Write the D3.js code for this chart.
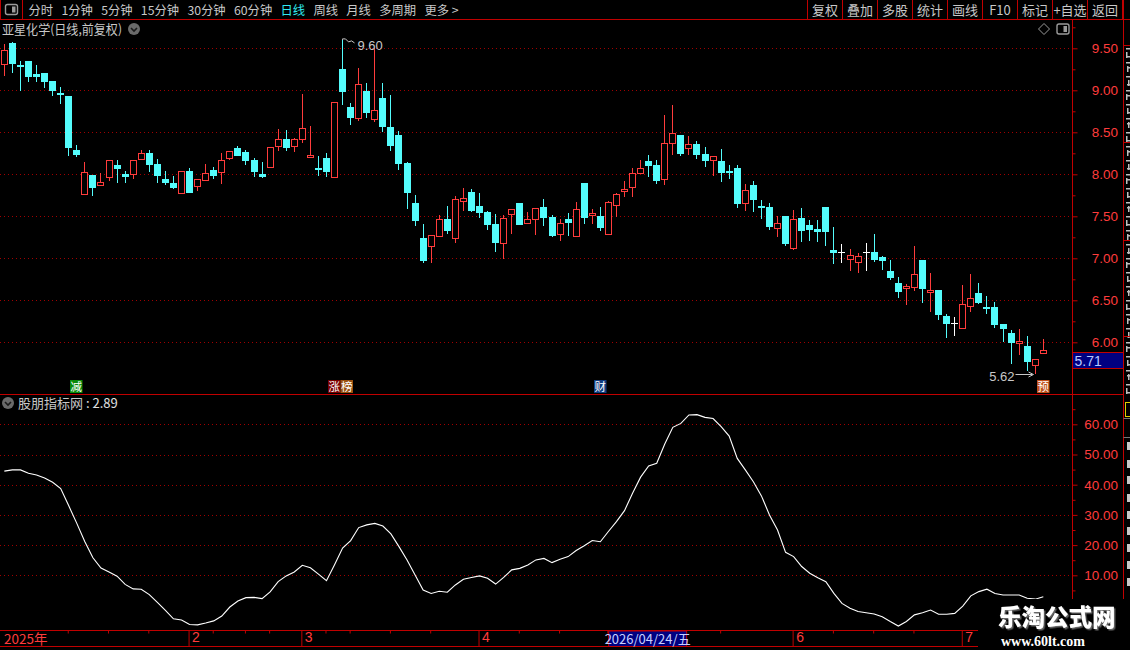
<!DOCTYPE html>
<html><head><meta charset="utf-8">
<script src="https://cdn.jsdelivr.net/npm/d3@7/dist/d3.min.js"></script>
<style>
body{margin:0;background:#000;overflow:hidden}
svg{display:block}
text{font-family:"Noto Sans CJK SC","Liberation Sans",sans-serif}
</style>
</head><body><svg id="c" width="1130" height="650"></svg>
<script>
// ---------------- DATA ----------------
const stockTitle = "亚星化学(日线,前复权)";
const indicatorName = "股朋指标网";
const indicatorLast = "2.89";
const opens = [9.31,9.56,9.30,9.35,9.19,9.21,9.11,8.97,8.93,8.29,
7.76,7.99,7.873,7.97,8.11,8.00,8.008,8.186,8.254,8.123,
7.944,7.893,7.782,8.04,7.865,7.933,8.052,8.032,8.20,8.313,
8.266,8.17,8.004,8.091,8.341,8.42,8.341,8.417,8.202,8.08,
8.194,7.972,9.254,8.80,8.675,8.99,8.663,8.909,8.563,8.468,
8.135,7.659,7.242,7.143,7.27,7.468,7.246,7.687,7.79,7.623,
7.552,7.409,7.186,7.532,7.659,7.425,7.464,7.611,7.49,7.286,
7.468,7.27,7.897,7.52,7.504,7.294,7.639,7.805,7.853,8.02,
8.159,8.111,7.948,8.369,8.468,8.317,8.361,8.242,8.175,8.159,
8.044,8.075,7.655,7.873,7.627,7.611,7.365,7.504,7.127,7.48,
7.397,7.349,7.611,7.099,7.075,6.996,6.96,7.071,7.075,7.012,
6.849,6.706,6.643,6.663,6.98,6.595,6.623,6.313,6.23,6.175,
6.437,6.587,6.425,6.421,6.214,6.107,5.988,5.952,5.734,5.877];
const highs = [9.55,9.57,9.345,9.35,9.30,9.21,9.11,9.04,8.93,8.35,
8.147,7.99,8.01,8.17,8.17,8.04,8.167,8.29,8.29,8.18,
8.04,7.98,8.036,8.075,7.944,8.12,8.09,8.25,8.274,8.337,
8.29,8.19,8.147,8.32,8.54,8.528,8.43,8.956,8.575,8.218,
8.25,8.861,9.60,8.845,9.266,9.083,9.50,9.083,8.944,8.516,
8.147,7.754,7.409,7.274,7.516,7.623,7.742,7.833,7.821,7.778,
7.563,7.528,7.516,7.583,7.659,7.556,7.595,7.706,7.516,7.468,
7.54,7.67,7.897,7.587,7.611,7.679,7.778,7.92,8.08,8.17,
8.226,8.17,8.706,8.825,8.468,8.456,8.397,8.325,8.214,8.30,
8.111,8.111,7.885,7.92,7.694,7.659,7.50,7.504,7.575,7.599,
7.456,7.456,7.611,7.373,7.17,7.111,7.063,7.183,7.29,7.032,
6.98,6.778,6.694,7.147,6.98,6.825,6.623,6.337,6.302,6.683,
6.813,6.706,6.552,6.484,6.214,6.147,6.159,6.079,5.798,6.04];
const lows = [9.17,9.22,9.00,9.115,9.115,9.036,8.94,8.85,8.234,8.22,
7.758,7.754,7.86,7.92,7.91,7.91,7.944,8.17,8.044,7.91,
7.885,7.837,7.78,7.79,7.80,7.92,7.96,7.885,8.17,8.234,
8.123,7.98,7.972,8.091,8.28,8.29,8.27,8.377,8.20,7.99,
7.984,7.972,8.837,8.60,8.64,8.687,8.627,8.52,8.29,8.067,
7.60,7.397,6.96,6.94,7.27,7.306,7.179,7.563,7.563,7.496,
7.353,7.091,6.99,7.29,7.409,7.417,7.282,7.397,7.27,7.21,
7.282,7.27,7.425,7.409,7.337,7.294,7.492,7.734,7.726,8.02,
7.98,7.90,7.877,8.234,8.234,8.234,8.198,8.103,7.98,7.925,
7.96,7.615,7.567,7.567,7.484,7.353,7.258,7.163,7.103,7.21,
7.222,7.21,7.163,6.948,6.96,6.853,6.829,6.865,6.972,6.877,
6.754,6.544,6.448,6.615,6.484,6.365,6.278,6.067,6.09,6.175,
6.357,6.464,6.349,6.187,6.016,5.758,5.853,5.67,5.62,5.861];
const closes = [9.476,9.33,9.29,9.175,9.17,9.115,9.004,8.96,8.33,8.24,
8.024,7.853,7.905,8.167,8.08,7.98,8.167,8.25,8.123,7.99,
7.91,7.853,8.036,7.794,7.944,8.012,7.99,8.17,8.274,8.234,
8.17,8.044,7.98,8.32,8.417,8.32,8.417,8.548,8.226,8.06,
8.044,8.861,8.99,8.687,9.075,8.746,8.762,8.575,8.349,8.139,
7.79,7.456,6.98,7.274,7.468,7.337,7.702,7.718,7.571,7.552,
7.409,7.194,7.48,7.583,7.409,7.464,7.595,7.49,7.282,7.421,
7.437,7.583,7.492,7.54,7.373,7.671,7.766,7.821,8.012,8.075,
8.111,7.933,8.369,8.488,8.254,8.357,8.242,8.175,8.214,8.032,
8.024,7.663,7.813,7.706,7.611,7.389,7.417,7.183,7.468,7.337,
7.353,7.329,7.325,7.079,7.075,7.036,7.024,7.071,6.996,6.984,
6.782,6.615,6.671,6.813,6.647,6.623,6.337,6.234,6.23,6.453,
6.524,6.484,6.409,6.218,6.175,6.008,6.012,5.782,5.798,5.905];
const indicator = [44.5,44.9,44.9,43.8,43.2,42.2,40.8,38.7,33.0,27.2,
21.1,15.8,12.4,11.1,9.7,7.0,5.5,5.4,3.6,1.0,
-1.6,-4.4,-4.8,-6.3,-6.4,-5.8,-5.1,-3.5,-0.5,1.5,
2.6,2.7,2.3,4.5,7.9,9.8,11.1,13.3,12.5,10.4,
8.2,13.5,19.0,21.5,25.8,26.7,27.2,26.3,23.7,19.5,
15.1,10.1,5.1,4.0,4.7,4.4,6.8,8.7,9.3,9.8,
9.0,7.1,9.3,11.8,12.3,13.4,15.1,15.6,14.2,15.3,
16.2,18.2,19.8,21.5,21.1,24.5,27.8,31.4,37.2,42.5,
46.2,47.1,53.5,59.0,60.3,63.1,63.2,62.3,61.9,59.2,
56.1,48.7,44.9,41.0,36.3,30.0,25.0,17.6,16.2,12.9,
10.7,9.2,7.9,4.0,0.7,-0.9,-2.0,-2.4,-2.8,-3.7,
-5.3,-6.8,-5.3,-3.1,-2.4,-1.5,-2.9,-2.9,-2.6,-0.2,
3.2,4.6,5.4,4.0,3.5,3.5,3.5,2.4,2.1,2.89];
const priceTicks = [6.0,6.5,7.0,7.5,8.0,8.5,9.0,9.5];
const priceMinor = [5.75,6.25,6.75,7.25,7.75,8.25,8.75,9.25,9.75];
const indTicks = [10,20,30,40,50,60];
const indMinor = [5,15,25,35,45,55,65];
const monthLabels = ["2","3","4","6","7"];
const monthIdx = [23,37,59,98,119];
const weekIdx = [8,13,18,26,30,33,40,43,48,53,64,69,75,89,103,108,113];
const yearLabel = "2025年";
const cursorDate = "2026/04/24/五";
const cursorIdx = 80;
const lastPriceLabel = "5.71";
const highLabel = "9.60", highIdx = 42;
const lowLabel = "5.62", lowIdx = 128;
const badgeIdx = [9,41,74,129];
const badgeChars = [["减"],["涨","榜"],["财"],["预"]];
const badgeColors = [["#0a8a0a"],["#7a0000","#9a5010"],["#103c80"],["#c0501a"]];
const toolbarItems = ["分时","1分钟","5分钟","15分钟","30分钟","60分钟","日线","周线","月线","多周期","更多 >"];
const activeItem = "日线";
const buttons = ["复权","叠加","多股","统计","画线","F10","标记","+自选","返回"];

// ---------------- DRAW ----------------
const svg = d3.select("#c");
const W = 1130, H = 650;
const RED = "#ff3c3c", CYAN = "#54fcfc", GRID = "#a00000", BORDER = "#c00000", TXT = "#c8c8c8";
svg.append("rect").attr("width", W).attr("height", H).attr("fill", "#000");
const defs = svg.append("defs");
const flt = defs.append("filter").attr("id", "ws").attr("x", "-5%").attr("y", "-20%").attr("width", "115%").attr("height", "150%");
flt.append("feDropShadow").attr("dx", 1.5).attr("dy", 1.5).attr("stdDeviation", 0.6).attr("flood-color", "#666");

const NSLOT = 133;
const x = d3.scaleBand().domain(d3.range(NSLOT)).range([0.3, 1071.5]);
const bw = x.bandwidth();
const cxf = i => Math.floor(x(i) + bw / 2);
const y = d3.scaleLinear().domain([6, 9.5]).range([342.3, 48.3]);
const yi = d3.scaleLinear().domain([10, 60]).range([575.3, 424.3]);
const AX = 1072.5;

// Gridlines
const g = svg.append("g");
g.selectAll("line.pg").data(priceTicks).join("line")
  .attr("x1", 0).attr("x2", AX).attr("y1", d => Math.round(y(d)) + 0.5).attr("y2", d => Math.round(y(d)) + 0.5)
  .attr("stroke", GRID).attr("stroke-dasharray", "1,3");
g.selectAll("line.ig").data(indTicks).join("line")
  .attr("x1", 0).attr("x2", AX).attr("y1", d => Math.round(yi(d)) + 0.5).attr("y2", d => Math.round(yi(d)) + 0.5)
  .attr("stroke", GRID).attr("stroke-dasharray", "1,3");

// Candles
const cg = svg.append("g").attr("shape-rendering", "crispEdges");
opens.forEach((o, i) => {
  const c = closes[i], h = highs[i], l = lows[i];
  const col = c > o ? RED : (c < o ? CYAN : "#ffffff");
  const f = cxf(i), cx = f + 0.5;
  const yt = Math.round(y(Math.max(o, c))), yb = Math.round(y(Math.min(o, c)));
  const yh = Math.round(y(h)), yl = Math.round(y(l));
  if (c > o) {
    if (yh < yt) cg.append("line").attr("x1", cx).attr("x2", cx).attr("y1", yh).attr("y2", yt).attr("stroke", col);
    if (yl > yb) cg.append("line").attr("x1", cx).attr("x2", cx).attr("y1", yb).attr("y2", yl).attr("stroke", col);
    cg.append("rect").attr("x", f - 2.5).attr("y", yt + 0.5).attr("width", 6).attr("height", Math.max(1, yb - yt))
      .attr("fill", "#000").attr("stroke", col);
  } else {
    cg.append("line").attr("x1", cx).attr("x2", cx).attr("y1", yh).attr("y2", yl + 1).attr("stroke", col);
    cg.append("rect").attr("x", f - 3).attr("y", yt).attr("width", 7).attr("height", Math.max(1, yb - yt + 1))
      .attr("fill", col);
  }
});

// High / low annotations
{
  const f = cxf(highIdx) + 0.5, yy = y(highs[highIdx]);
  svg.append("path").attr("d", `M${f},${yy} V${yy - 1} H${f + 3} L${f + 6},${yy + 2} L${f + 9},${yy + 1} L${f + 12},${yy + 3}`)
    .attr("fill", "none").attr("stroke", TXT);
  svg.append("text").attr("x", f + 15).attr("y", yy + 10).attr("fill", TXT).attr("font-size", 13)
    .style("font-family", "Liberation Sans").text(highLabel);
  const f2 = cxf(lowIdx) + 0.5, y2 = Math.round(y(lows[lowIdx])) + 0.5;
  svg.append("line").attr("x1", f2 - 20).attr("x2", f2 - 3).attr("y1", y2).attr("y2", y2).attr("stroke", TXT);
  svg.append("path").attr("d", `M${f2 - 7},${y2 - 2.5} L${f2 - 2},${y2} L${f2 - 7},${y2 + 2.5}`).attr("fill", "none").attr("stroke", TXT);
  svg.append("text").attr("x", f2 - 21).attr("y", y2 + 6).attr("text-anchor", "end").attr("fill", TXT).attr("font-size", 13)
    .style("font-family", "Liberation Sans").text(lowLabel);
}

// Badges
badgeIdx.forEach((bi, k) => {
  let bx = cxf(bi) - 6;
  badgeChars[k].forEach((ch, j) => {
    svg.append("rect").attr("x", bx).attr("y", 380).attr("width", 12.5).attr("height", 13).attr("fill", badgeColors[k][j]);
    svg.append("text").attr("x", bx + 6.25).attr("y", 391).attr("text-anchor", "middle").attr("fill", "#fff")
      .attr("font-size", 11.5).text(ch);
    bx += 12.5;
  });
});

// Indicator line
svg.append("clipPath").attr("id", "ic").append("rect").attr("x", 0).attr("y", 396).attr("width", 1072).attr("height", 234);
svg.append("path").datum(indicator).attr("clip-path", "url(#ic)")
  .attr("d", d3.line().x((d, i) => x(i) + bw / 2).y(d => yi(d)))
  .attr("fill", "none").attr("stroke", "#fff").attr("stroke-width", 1.1);

// Panel borders
const bl = (x1, y1, x2, y2, c = BORDER, w = 1) => svg.append("line").attr("x1", x1).attr("y1", y1).attr("x2", x2).attr("y2", y2).attr("stroke", c).attr("stroke-width", w);
bl(0, 19.5, W, 19.5);
bl(0, 394.5, 1123, 394.5);
bl(0, 630.5, 1123, 630.5);
bl(0, 646.5, 1123, 646.5);
bl(AX, 19, AX, 646);
bl(1123.5, 0, 1123.5, H);

// Right axes
const ay = svg.append("g").attr("transform", `translate(${AX},0)`)
  .call(d3.axisRight(y).tickValues(priceTicks).tickSize(5).tickFormat(d3.format(".2f")));
const ayMinor = svg.append("g").attr("transform", `translate(${AX},0)`)
  .call(d3.axisRight(y).tickValues(priceMinor.filter(v => y(v) > 22 && y(v) < 392)).tickSize(3).tickFormat(""));
const ai = svg.append("g").attr("transform", `translate(${AX},0)`)
  .call(d3.axisRight(yi).tickValues(indTicks).tickSize(5).tickFormat(d3.format(".2f")));
const aiMinor = svg.append("g").attr("transform", `translate(${AX},0)`)
  .call(d3.axisRight(yi).tickValues(indMinor.filter(v => yi(v) > 398 && yi(v) < 628)).tickSize(3).tickFormat(""));
[ay, ayMinor, ai, aiMinor].forEach(a => {
  a.select(".domain").remove();
  a.selectAll(".tick line").attr("stroke", BORDER);
  a.selectAll(".tick text").attr("fill", RED).attr("x", 45.5).attr("text-anchor", "end")
    .style("font-family", "Liberation Sans").attr("font-size", 13.5);
});

// Last price box
{
  const yy = Math.round(y(+lastPriceLabel)) - 14.5;
  svg.append("rect").attr("x", AX).attr("y", yy).attr("width", 1123.5 - AX).attr("height", 16)
    .attr("fill", "#000080").attr("stroke", BORDER);
  svg.append("text").attr("x", AX + 2).attr("y", yy + 13).attr("fill", "#b8c8ff").attr("font-size", 14)
    .style("font-family", "Liberation Sans").text(lastPriceLabel);
}

// Bottom axis
const xc = d3.scaleLinear().domain([0, NSLOT - 1]).range([x(0) + bw / 2, x(NSLOT - 1) + bw / 2]);
const ax = svg.append("g").attr("transform", "translate(0,630.5)")
  .call(d3.axisBottom(xc).tickValues(monthIdx).tickSize(16).tickFormat((d, i) => monthLabels[i]));
const axw = svg.append("g").attr("transform", "translate(0,630.5)")
  .call(d3.axisBottom(xc).tickValues(weekIdx).tickSize(3).tickFormat(""));
[ax, axw].forEach(a => {
  a.select(".domain").remove();
  a.selectAll(".tick line").attr("stroke", BORDER).attr("transform", "translate(-1,0)");
});
ax.selectAll(".tick text").attr("fill", RED).attr("y", 2).attr("dy", "0.71em").attr("x", 2).attr("text-anchor", "start")
  .style("font-family", "Liberation Sans").attr("font-size", 14);
svg.append("text").attr("x", 4).attr("y", 644).attr("fill", RED).attr("font-size", 13.5).text(yearLabel);
{
  const c = xc(cursorIdx) - 1;
  svg.append("rect").attr("x", c - 39).attr("y", 631).attr("width", 78).attr("height", 15.5).attr("fill", "#000080")
    .attr("stroke", BORDER);
  svg.append("text").attr("x", c).attr("y", 644).attr("text-anchor", "middle").attr("fill", "#c8d0ff")
    .attr("font-size", 13).text(cursorDate);
}

// Toolbar
{
  svg.append("rect").attr("x", 0.5).attr("y", -1).attr("width", 22).attr("height", 20.5).attr("fill", "none").attr("stroke", BORDER);
  const icon = (cx, cy) => {
    svg.append("rect").attr("x", cx - 6).attr("y", cy - 5).attr("width", 12).attr("height", 10).attr("rx", 2)
      .attr("fill", "none").attr("stroke", "#9a9a9a").attr("stroke-width", 1.4);
    svg.append("rect").attr("x", cx + 0.5).attr("y", cy - 3).attr("width", 3.5).attr("height", 6).attr("fill", "#9a9a9a");
  };
  icon(11.5, 9.5);
  let tx = 28.5;
  toolbarItems.forEach(t => {
    const el = svg.append("text").attr("x", tx).attr("y", 14.5).attr("font-size", 12.3)
      .attr("fill", t === activeItem ? "#30e8f0" : TXT).text(t);
    tx += el.node().getComputedTextLength() + 8.3;
  });
  const bx0 = 807.5, bwid = 35;
  buttons.forEach((t, i) => {
    svg.append("rect").attr("x", bx0 + i * bwid).attr("y", -1).attr("width", bwid).attr("height", 20.5)
      .attr("fill", "none").attr("stroke", BORDER);
    svg.append("text").attr("x", bx0 + i * bwid + bwid / 2).attr("y", 14.5).attr("text-anchor", "middle")
      .attr("font-size", 13).attr("fill", TXT).text(t);
  });
  // title row
  svg.append("text").attr("x", 2).attr("y", 34).attr("font-size", 13).attr("fill", TXT)
    .attr("textLength", 120).attr("lengthAdjust", "spacingAndGlyphs").text(stockTitle);
  const chev = (cx, cy) => {
    svg.append("circle").attr("cx", cx).attr("cy", cy).attr("r", 6).attr("fill", "#6a6a6a");
    svg.append("path").attr("d", `M${cx - 3},${cy - 1} L${cx},${cy + 2} L${cx + 3},${cy - 1}`).attr("fill", "none")
      .attr("stroke", "#1a1a1a").attr("stroke-width", 1.6);
  };
  chev(134, 29);
  svg.append("path").attr("d", "M1044,23.5 L1049.5,29 L1044,34.5 L1038.5,29 Z").attr("fill", "none").attr("stroke", "#9a9a9a");
  icon(1063, 29);
  // indicator title
  chev(8, 403);
  const it = svg.append("text").attr("x", 18).attr("y", 408).attr("font-size", 13).attr("fill", TXT);
  it.append("tspan").text(indicatorName);
  it.append("tspan").attr("fill", "#e0e0e0").text(" : " + indicatorLast);
}

// Side strip (clipped glyph fragments of a side menu)
{
  svg.append("clipPath").attr("id", "sc").append("rect").attr("x", 1124).attr("y", 0).attr("width", 6).attr("height", 650);
  const sg = svg.append("g").attr("clip-path", "url(#sc)").attr("fill", "#bfbfbf");
  d3.range(48, 390, 14).forEach((v, k) => {
    sg.append("rect").attr("x", 1126).attr("y", v).attr("width", 4).attr("height", 1.5);
    sg.append("rect").attr("x", 1126 + (k % 3)).attr("y", v + 4).attr("width", 1.5).attr("height", 6);
    sg.append("rect").attr("x", 1127).attr("y", v + 8 - (k % 2) * 3).attr("width", 3).attr("height", 1.5);
  });
  [45.5, 142.5, 240.5, 336.5].forEach(v => bl(1123.5, v, W, v));
  sg.append("rect").attr("x", 1125.5).attr("y", 402.5).attr("width", 12).attr("height", 14).attr("fill", "none").attr("stroke", "#e0d000");
  bl(1123.5, 418.5, W, 418.5, "#777");
  bl(1123.5, 437.5, W, 437.5, "#777");
  [442, 460, 476, 494, 511, 527, 544, 561, 578].forEach(v => {
    sg.append("rect").attr("x", 1127).attr("y", v).attr("width", 3).attr("height", 8).attr("fill", "#c8c8c8");
  });
}

// Watermark
{
  svg.append("rect").attr("x", 978).attr("y", 599).attr("width", 152).attr("height", 51).attr("fill", "#000");
  svg.append("text").attr("x", 998).attr("y", 626).attr("font-size", 23.5).attr("font-weight", 900).attr("fill", "#fff")
    .attr("filter", "url(#ws)").text("乐淘公式网");
  svg.append("text").attr("x", 1001).attr("y", 645.5).attr("font-size", 14).attr("font-weight", 700)
    .style("font-family", "Liberation Serif").attr("fill", "#fff").text("www.60lt.com");
}
</script>
</body></html>
